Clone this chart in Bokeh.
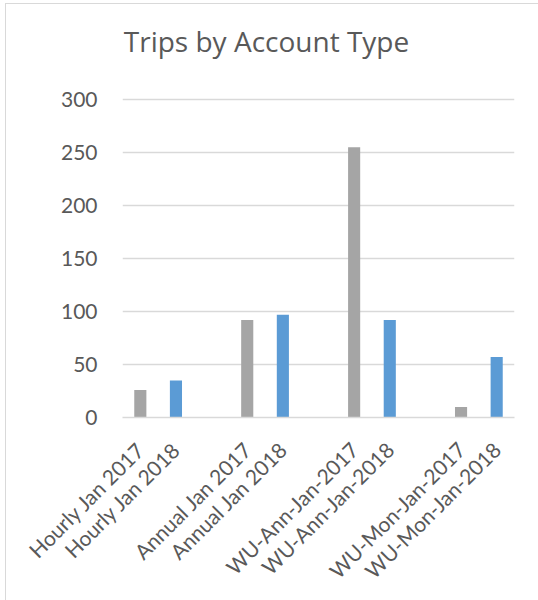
import math
from bokeh.plotting import figure
from bokeh.models import Range1d, FixedTicker, ColumnDataSource, Label
from bokeh.embed import file_html
from bokeh.resources import INLINE

title_text = "Trips by Account Type"
categories = ["Hourly Jan 2017", "Hourly Jan 2018",
              "Annual Jan 2017", "Annual Jan 2018",
              "WU-Ann-Jan-2017", "WU-Ann-Jan-2018",
              "WU-Mon-Jan-2017", "WU-Mon-Jan-2018"]
trips = [26, 35, 92, 97, 255, 92, 10, 57]
years = ["2017", "2018", "2017", "2018", "2017", "2018", "2017", "2018"]
year_colors = {"2017": "#A5A5A5", "2018": "#5B9BD5"}
y_ticks = [0, 50, 100, 150, 200, 250, 300]
y_max = 300

# category slots: one blank slot after each pair of categories
slots = [i + i // 2 for i in range(len(categories))]
n_slots = slots[-1] + 1

src = ColumnDataSource(dict(
    x=slots, top=trips, color=[year_colors[y] for y in years], label=categories))

TEXT = "#595959"
GRID = "#D9D9D9"

# layout (pixels inside the figure)
W, H = 533, 597
LEFT, RIGHT = 116, 25
TOP = 10               # frame top (room above value axis is used for the title)
AXIS_TOP = 95          # where the 300 gridline sits
BOTTOM = 184
frame_bottom = H - BOTTOM
axis_px = frame_bottom - AXIS_TOP
y_end = y_max * (frame_bottom - TOP) / axis_px
title_base_px = 36
title_center_px = 144
frame_w = W - LEFT - RIGHT

p = figure(width=W, height=H, output_backend="svg", toolbar_location=None,
           x_range=Range1d(-0.5, n_slots - 0.5), y_range=Range1d(0, y_end),
           min_border_left=LEFT, min_border_right=RIGHT, min_border_top=TOP,
           min_border_bottom=BOTTOM,
           styles={"margin-left": "5px", "margin-top": "3px",
                   "border-left": "1px solid #D9D9D9", "border-top": "1px solid #D9D9D9"})

p.vbar(x="x", top="top", width=0.34, color="color", line_color=None, source=src)

p.add_layout(Label(x=-0.5 + title_center_px / frame_w * n_slots,
                   y=y_max * (frame_bottom - title_base_px) / axis_px,
                   text=title_text,
                   text_font="Open Sans", text_font_size="28px", text_color=TEXT,
                   text_align="center", text_baseline="alphabetic"))

p.outline_line_color = None
p.background_fill_color = "white"
p.border_fill_color = "white"

p.xgrid.grid_line_color = None
p.ygrid.grid_line_color = GRID
p.ygrid.grid_line_width = 1.5

p.yaxis.ticker = FixedTicker(ticks=y_ticks)
p.yaxis.axis_line_color = None
p.yaxis.major_tick_line_color = None
p.yaxis.minor_tick_line_color = None
p.yaxis.major_label_text_font = "Lato"
p.yaxis.major_label_text_font_size = "21px"
p.yaxis.major_label_text_color = TEXT
p.yaxis.major_label_standoff = 19

p.xaxis.ticker = FixedTicker(ticks=slots)
p.xaxis.major_label_overrides = {s: c for s, c in zip(slots, categories)}
p.xaxis.major_label_orientation = math.pi / 4
p.xaxis.axis_line_color = GRID
p.xaxis.axis_line_width = 1.5
p.xaxis.major_tick_line_color = None
p.xaxis.minor_tick_line_color = None
p.xaxis.major_label_text_font = "Lato"
p.xaxis.major_label_text_font_size = "21px"
p.xaxis.major_label_text_color = TEXT
p.xaxis.major_label_standoff = 22

open("out.html", "w").write(file_html(p, INLINE))
